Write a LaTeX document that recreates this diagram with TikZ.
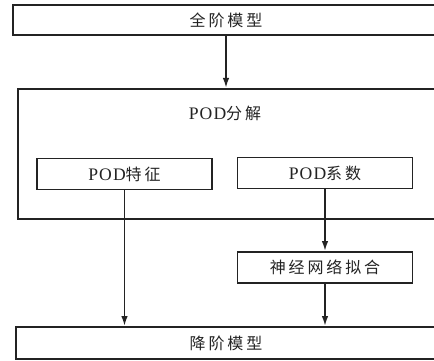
\documentclass[tikz,border=0pt]{standalone}
\usepackage{fontspec}
\setmainfont[LetterSpace=6,Scale=1.1]{Liberation Serif}
\newfontfamily\cjk[LetterSpace=18]{Noto Sans CJK SC}
\usetikzlibrary{arrows.meta}
\definecolor{ink}{RGB}{35,35,35}
\tikzset{
  stage/.style={
    draw=ink, line width=1.8pt, inner sep=0pt,
    align=center, font=\fontsize{16}{19}\selectfont, text=ink,
  },
  subbox/.style={
    stage, minimum width=175pt, minimum height=31pt,
  },
  title/.style={
    inner sep=0pt, font=\fontsize{16}{19}\selectfont, text=ink,
  },
  arr/.style={-{Latex[length=10pt,width=6.5pt]}, line width=1.8pt, draw=ink},
}
\begin{document}
\begin{tikzpicture}[x=1pt,y=-1pt]
  \useasboundingbox (0,0) rectangle (434,361);
  \clip (0,0) rectangle (434,361);

  % full order model
  \node[stage, minimum width=426pt, minimum height=30pt] (full) at (226,20) {\cjk 全阶模型};

  % POD decomposition
  \node[stage, minimum width=423pt, minimum height=130pt, anchor=north west] (decomp) at (17,88) {};
  \node[title] (decomptitle) at (225,113) {POD\cjk 分解};
  \node[subbox] (modes) at (124.5,174) {POD\cjk 特征};
  \node[subbox] (coefs) at (325,173) {POD\cjk 系数};

  % network fit
  \node[subbox] (fit) at (325,267.5) {\cjk 神经网络拟合};

  % reduced order model
  \node[stage, minimum width=420pt, minimum height=32pt] (rom) at (226,343) {\cjk 降阶模型};

  \draw[arr] (full.south) -- (full.south |- decomp.north);
  \draw[arr] (modes.south) -- (modes.south |- rom.north);
  \draw[arr] (coefs) -- (fit);
  \draw[arr] (fit.south) -- (fit.south |- rom.north);
\end{tikzpicture}
\end{document}
